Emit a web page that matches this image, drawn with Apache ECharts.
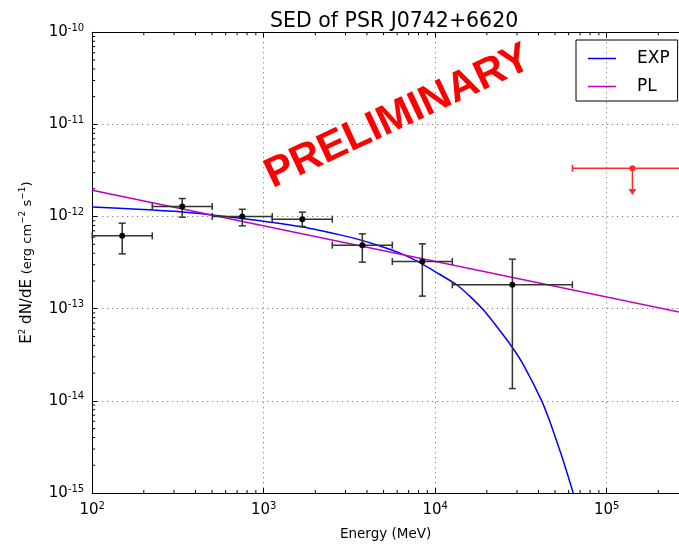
<!DOCTYPE html>
<html><head><meta charset="utf-8">
<script src="https://cdn.jsdelivr.net/npm/echarts@6/dist/echarts.min.js"></script>
<style>html,body{margin:0;padding:0;background:#fff}#c{width:679px;height:546px}</style>
</head><body><div id="c"></div>
<script>
// ---- data ----
const binLo  = [100, 224, 501, 1122, 2512, 5623, 12589];
const binHi  = [224, 501, 1122, 2512, 5623, 12589, 63096];
const energy = [149.6, 335, 750, 1679, 3758, 8414, 28184];
const flux   = [6.18e-13, 1.285e-12, 1.0e-12, 9.37e-13, 4.9e-13, 3.25e-13, 1.816e-13];
const fluxLo = [3.94e-13, 9.85e-13, 7.93e-13, 7.8e-13, 3.2e-13, 1.37e-13, 1.36e-14];
const fluxHi = [8.48e-13, 1.57e-12, 1.2e-12, 1.117e-12, 6.49e-13, 5.06e-13, 3.45e-13];
// upper limit
const ulBin   = [63096, 316228];
const ulE     = [141254];
const ulFlux  = [3.35e-12];
const ulArrow = [1.72e-12];
// EXP model curve
const expE = [100, 325, 728, 1629, 2786, 3648, 4767, 6237, 8147, 9970, 13340, 15950, 19070, 22840, 27930, 32640, 41800, 46100, 50000, 56000, 63800];
const expF = [1.27e-12, 1.13e-12, 9.6e-13, 7.8e-13, 6.33e-13, 5.59e-13, 4.8e-13, 4.01e-13, 3.17e-13, 2.53e-13, 1.82e-13, 1.36e-13, 9.72e-14, 6.41e-14, 3.89e-14, 2.47e-14, 1.0e-14, 6.3e-15, 4.1e-15, 2.2e-15, 1.0e-15];
// PL model curve
const plE = [100, 316228];
const plF = [1.93e-12, 8.6e-14];
// axes
const xMin = 100, xMax = 264000;
const yMin = 1e-15, yMax = 1e-10;
const xMinor = [200,300,400,500,600,700,800,900,2000,3000,4000,5000,6000,7000,8000,9000,
                20000,30000,40000,50000,60000,70000,80000,90000,200000];
const yMinorMant = [2,3,4,5,6,7,8,9];
const yDecades = [-15,-14,-13,-12,-11];

// internal y scaling (log axis precision)
const S = 1e15;
const sc = v => v * S;
const yMinor = [];
yDecades.forEach(d => yMinorMant.forEach(m => yMinor.push(m * Math.pow(10, d))));

const FONT = 'DejaVu Sans';
function supLabel(exp){ return '{b|10}{s|' + exp + '}'; }
function xFmt(v){ const l = Math.log10(v), e = Math.round(l); return Math.abs(l-e) < 1e-6 ? supLabel(e) : ''; }
function yFmt(v){ const l = Math.log10(v), e = Math.round(l); return Math.abs(l-e) < 1e-6 ? supLabel(e - 15) : ''; }
const rich = {
  b: {fontFamily: FONT, fontSize: 15, color: '#000', lineHeight: 18},
  s: {fontFamily: FONT, fontSize: 10, color: '#000', verticalAlign: 'top', lineHeight: 11}
};
const split = {show: true, lineStyle: {color: '#666', width: 1, type: [1, 4]}};
const axLine = {show: true, lineStyle: {color: '#000', width: 1}};
const TICKC = '#000', TICKL = 3;

const errData = energy.map((e, i) => [e, sc(flux[i]), binLo[i], binHi[i], sc(fluxLo[i]), sc(fluxHi[i])]);
const ulData = ulE.map((e, i) => [e, sc(ulFlux[i]), ulBin[0], ulBin[1], sc(ulArrow[i])]);

function renderErr(params, api){
  const x = api.value(0), y = api.value(1);
  const c = api.coord([x, y]);
  const l = api.coord([api.value(2), y]), r = api.coord([api.value(3), y]);
  const b = api.coord([x, api.value(4)]), t = api.coord([x, api.value(5)]);
  const st = {stroke: '#333', lineWidth: 1.5};
  const k = 3.5;
  return {type: 'group', children: [
    {type: 'line', shape: {x1: l[0], y1: c[1], x2: r[0], y2: c[1]}, style: st},
    {type: 'line', shape: {x1: c[0], y1: b[1], x2: c[0], y2: t[1]}, style: st},
    {type: 'line', shape: {x1: l[0], y1: c[1]-k, x2: l[0], y2: c[1]+k}, style: st},
    {type: 'line', shape: {x1: r[0], y1: c[1]-k, x2: r[0], y2: c[1]+k}, style: st},
    {type: 'line', shape: {x1: c[0]-k, y1: b[1], x2: c[0]+k, y2: b[1]}, style: st},
    {type: 'line', shape: {x1: c[0]-k, y1: t[1], x2: c[0]+k, y2: t[1]}, style: st},
    {type: 'circle', shape: {cx: c[0], cy: c[1], r: 3}, style: {fill: '#000'}}
  ]};
}
function renderUL(params, api){
  const x = api.value(0), y = api.value(1);
  const c = api.coord([x, y]);
  const l = api.coord([api.value(2), y]), r = api.coord([api.value(3), y]);
  const a = api.coord([x, api.value(4)]);
  const col = '#ff2a2a';
  const st = {stroke: col, lineWidth: 1.5};
  return {type: 'group', children: [
    {type: 'line', shape: {x1: l[0], y1: c[1], x2: r[0], y2: c[1]}, style: st},
    {type: 'line', shape: {x1: l[0], y1: c[1]-3.5, x2: l[0], y2: c[1]+3.5}, style: st},
    {type: 'line', shape: {x1: c[0], y1: c[1], x2: c[0], y2: a[1]-6}, style: st},
    {type: 'polygon', shape: {points: [[c[0]-4, a[1]-6], [c[0]+4, a[1]-6], [c[0], a[1]]]}, style: {fill: col}},
    {type: 'circle', shape: {cx: c[0], cy: c[1], r: 3}, style: {fill: col}}
  ]};
}
// minor ticks placed through the axes' own scales
function renderXMinor(params, api){
  const p = api.coord([api.value(0), sc(yMin)]);
  const cs = params.coordSys;
  const st = {stroke: TICKC, lineWidth: 1};
  return {type: 'group', children: [
    {type: 'line', shape: {x1: p[0], y1: cs.y + cs.height, x2: p[0], y2: cs.y + cs.height - TICKL}, style: st},
    {type: 'line', shape: {x1: p[0], y1: cs.y, x2: p[0], y2: cs.y + TICKL}, style: st}
  ]};
}
function renderYMinor(params, api){
  const p = api.coord([xMin, api.value(1)]);
  const cs = params.coordSys;
  return {type: 'line', shape: {x1: cs.x, y1: p[1], x2: cs.x + TICKL, y2: p[1]}, style: {stroke: TICKC, lineWidth: 1}};
}

const chart = echarts.init(document.getElementById('c'), null, {renderer: 'canvas'});
chart.setOption({
  animation: false,
  backgroundColor: '#fff',
  title: {text: 'SED of PSR J0742+6620', left: 265, top: 6,
    textStyle: {fontFamily: FONT, fontSize: 20.5, fontWeight: 'normal', color: '#000'}},
  legend: {
    data: ['EXP', 'PL'], left: 576, top: 40, orient: 'vertical', selectedMode: false,
    icon: 'rect', itemWidth: 28, itemHeight: 1.5, itemGap: 11,
    padding: [10, 8, 6, 12], borderColor: '#000', borderWidth: 1, borderRadius: 0,
    textStyle: {fontFamily: FONT, fontSize: 17, color: '#000', padding: [0, 0, 0, 16]}
  },
  grid: {left: 92.2, top: 32.3, right: 0, height: 461},
  xAxis: [
    {type: 'log', position: 'bottom', min: xMin, max: xMax, logBase: 10,
     name: 'Energy (MeV)', nameLocation: 'middle', nameGap: 34,
     nameTextStyle: {fontFamily: FONT, fontSize: 13.5, color: '#000'},
     axisLine: axLine, axisTick: {show: true, inside: true, length: 5, lineStyle: {color: '#000'}},
     axisLabel: {formatter: xFmt, rich: rich, margin: 8, showMaxLabel: false},
     splitLine: split},
    {type: 'log', position: 'top', min: xMin, max: xMax,
     axisLine: axLine, axisTick: {show: true, inside: true, length: 5, lineStyle: {color: '#000'}},
     axisLabel: {show: false}, splitLine: {show: false}}
  ],
  yAxis: [
    {type: 'log', position: 'left', min: sc(yMin), max: sc(yMax),
     name: '{a|E}{s|2}{a| dN/dE }{c|(erg cm}{s|−2}{c| s}{s|−1}{c|)}',
     nameLocation: 'middle', nameGap: 56, nameRotate: 90,
     nameTextStyle: {rich: {
       a: {fontFamily: FONT, fontSize: 15, color: '#000', lineHeight: 18},
       c: {fontFamily: FONT, fontSize: 13, color: '#000', lineHeight: 18},
       s: {fontFamily: FONT, fontSize: 9, color: '#000', verticalAlign: 'top', lineHeight: 10}
     }},
     axisLine: axLine, axisTick: {show: true, inside: true, length: 5, lineStyle: {color: '#000'}},
     axisLabel: {formatter: yFmt, rich: rich, margin: 8},
     splitLine: split}
  ],
  series: [
    {name: 'EXP', type: 'line', xAxisIndex: 0, yAxisIndex: 0, showSymbol: false, smooth: 0.2,
     data: expE.map((e, i) => [e, sc(expF[i])]), color: '#0000ff',
     lineStyle: {color: '#0000ff', width: 1.5}, z: 3},
    {name: 'PL', type: 'line', xAxisIndex: 0, yAxisIndex: 0, showSymbol: false,
     data: plE.map((e, i) => [e, sc(plF[i])]), color: '#bf00bf',
     lineStyle: {color: '#bf00bf', width: 1.5}, z: 3},
    {name: 'points', type: 'custom', xAxisIndex: 0, yAxisIndex: 0, renderItem: renderErr,
     data: errData, encode: {x: 0, y: 1}, z: 4},
    {name: 'ul', type: 'custom', xAxisIndex: 0, yAxisIndex: 0, renderItem: renderUL,
     data: ulData, encode: {x: 0, y: 1}, z: 4},
    {name: 'xminor', type: 'custom', xAxisIndex: 0, yAxisIndex: 0, renderItem: renderXMinor,
     data: xMinor.map(v => [v, sc(yMin)]), encode: {x: 0, y: 1}, z: 5, silent: true},
    {name: 'yminor', type: 'custom', xAxisIndex: 0, yAxisIndex: 0, renderItem: renderYMinor,
     data: yMinor.map(v => [xMin, sc(v)]), encode: {x: 0, y: 1}, z: 5, silent: true}
  ],
  graphic: [{
    type: 'text', x: 398, y: 117, rotation: 25 * Math.PI / 180, z: 100,
    style: {text: 'PRELIMINARY', fill: '#ff0000', font: 'bold 42px "Liberation Sans", Arial, sans-serif',
      align: 'center', verticalAlign: 'middle',
      shadowColor: 'rgba(0,0,0,0.45)', shadowBlur: 3, shadowOffsetX: 3, shadowOffsetY: 3}
  }]
});
</script></body></html>
